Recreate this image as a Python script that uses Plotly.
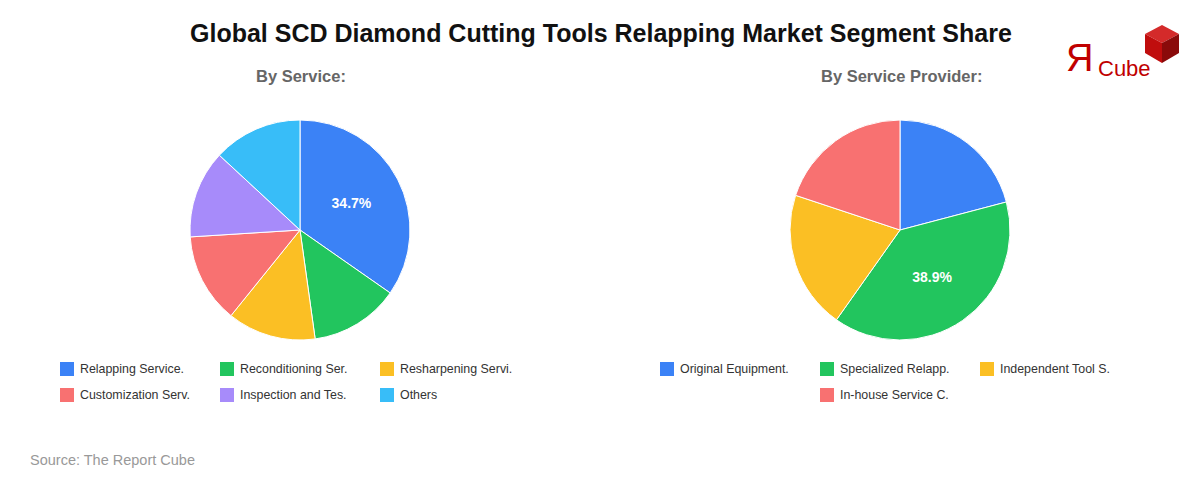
import plotly.graph_objects as go

# page body has an 8px margin, so the figure is offset by (8, 8) in the window
OFF = 8
W, H = 1200 - OFF, 480 - OFF

# ---- data ----
service_labels = ["Relapping Service.", "Reconditioning Ser.", "Resharpening Servi.",
                  "Customization Serv.", "Inspection and Tes.", "Others"]
service_values = [34.7, 13.1, 13.0, 13.2, 12.9, 13.1]

provider_labels = ["Original Equipment.", "Specialized Relapp.", "Independent Tool S.",
                   "In-house Service C."]
provider_values = [20.9, 38.9, 20.3, 19.9]

colors = ["#3b82f6", "#22c55e", "#fbbf24", "#f87171", "#a78bfa", "#38bdf8"]

title_text = "Global SCD Diamond Cutting Tools Relapping Market Segment Share"
sub_left = "By Service:"
sub_right = "By Service Provider:"
source_text = "Source: The Report Cube"

FONT = "Liberation Sans, Arial, sans-serif"


def px_x(x):
    return (x - OFF) / W


def px_y(y):
    return 1 - (y - OFF) / H


def pie_trace(labels, values, cx, cy, r):
    vmax = max(values)
    text = [f"{v:.1f}%" if v == vmax else "" for v in values]
    return go.Pie(
        labels=labels, values=values, text=text,
        textinfo="text", texttemplate="%{text}",
        textposition="inside", insidetextorientation="horizontal",
        textfont=dict(family=FONT, size=14, color="white", weight="bold"),
        marker=dict(colors=colors[:len(values)], line=dict(color="white", width=1)),
        sort=False, direction="clockwise", rotation=0,
        showlegend=False, hoverinfo="label+percent",
        domain=dict(x=[px_x(cx - r), px_x(cx + r)], y=[px_y(cy + r), px_y(cy - r)]),
    )


fig = go.Figure()
fig.add_trace(pie_trace(service_labels, service_values, 300, 230, 110))
fig.add_trace(pie_trace(provider_labels, provider_values, 900, 230, 110))

annotations = []
shapes = []

annotations.append(dict(text=f"<b>{title_text}</b>", x=px_x(601), y=px_y(33), xref="paper", yref="paper",
                        showarrow=False, xanchor="center", yanchor="middle",
                        font=dict(family=FONT, size=25, color="#111111")))
for t, cx in [(sub_left, 301), (sub_right, 901)]:
    annotations.append(dict(text=f"<b>{t}</b>", x=px_x(cx), y=px_y(76), xref="paper", yref="paper",
                            showarrow=False, xanchor="center", yanchor="middle",
                            font=dict(family=FONT, size=16.5, color="#666666")))
annotations.append(dict(text=source_text, x=px_x(28), y=px_y(460), xref="paper", yref="paper",
                        showarrow=False, xanchor="left", yanchor="middle",
                        font=dict(family=FONT, size=14.5, color="#999999")))


def legend(labels, positions):
    for i, (lab, (x, y)) in enumerate(zip(labels, positions)):
        shapes.append(dict(type="rect", xref="paper", yref="paper",
                           x0=px_x(x), x1=px_x(x + 14), y0=px_y(y + 7), y1=px_y(y - 7),
                           fillcolor=colors[i], line=dict(width=0)))
        annotations.append(dict(text=lab, x=px_x(x + 18), y=px_y(y), xref="paper", yref="paper",
                                showarrow=False, xanchor="left", yanchor="middle",
                                font=dict(family=FONT, size=12.4, color="#333333")))


legend(service_labels, [(60, 369), (220, 369), (380, 369), (60, 395), (220, 395), (380, 395)])
legend(provider_labels, [(660, 369), (820, 369), (980, 369), (820, 395)])

# ---- logo ----
annotations.append(dict(text="Я", x=px_x(1079), y=px_y(58), xref="paper", yref="paper",
                        showarrow=False, xanchor="center", yanchor="middle",
                        font=dict(family=FONT, size=38, color="#c00000")))
annotations.append(dict(text="Cube", x=px_x(1096), y=px_y(69), xref="paper", yref="paper",
                        showarrow=False, xanchor="left", yanchor="middle",
                        font=dict(family=FONT, size=22, color="#c00000")))


def path(pts):
    return "M " + " L ".join(f"{px_x(x):.5f},{px_y(y):.5f}" for x, y in pts) + " Z"


cube_faces = [
    ([(1162, 25), (1179, 34), (1162, 43), (1145, 34)], "#d42a2a"),
    ([(1145, 34), (1162, 43), (1162, 63), (1145, 53)], "#c00d0d"),
    ([(1162, 43), (1179, 34), (1179, 53), (1162, 63)], "#8a0a0a"),
]
for pts, c in cube_faces:
    shapes.append(dict(type="path", xref="paper", yref="paper", path=path(pts),
                       fillcolor=c, line=dict(width=0)))

fig.update_layout(
    width=W, height=H,
    margin=dict(l=0, r=0, t=0, b=0),
    paper_bgcolor="white", plot_bgcolor="white",
    annotations=annotations, shapes=shapes,
    font=dict(family=FONT),
)

fig.write_html("out.html")
